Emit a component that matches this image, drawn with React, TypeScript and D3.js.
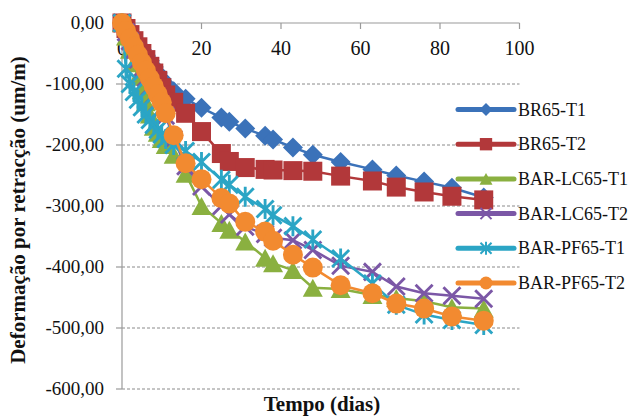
import React from "react";
import * as d3 from "d3";

// Measurement days (shared by all specimens)
const days = [0, 1, 2, 3, 4, 5, 6, 7, 8, 9, 10, 11, 13, 16, 20, 25, 27, 31, 36, 38, 43, 48, 55, 63, 69, 76, 83, 91];

// Shrinkage strain (µm/m) per specimen
const br65T1 = [0, -8, -17, -26, -35, -44, -53, -62, -72, -82, -92, -101, -112, -124, -139, -155, -162, -173, -185, -191, -204, -216, -228, -240, -250, -260, -270, -286];
const br65T2 = [0, -9, -19, -29, -39, -50, -60, -71, -82, -94, -106, -118, -130, -148, -178, -214, -227, -237, -240, -241, -242, -243, -251, -259, -269, -277, -284, -290];
const barLc65T1 = [0, -22, -44, -66, -88, -110, -130, -150, -170, -180, -190, -200, -216, -247, -300, -328, -339, -358, -385, -394, -405, -434, -436, -446, -451, -456, -466, -468];
const barLc65T2 = [0, -15, -30, -45, -60, -75, -90, -105, -118, -130, -140, -152, -190, -235, -268, -300, -314, -334, -346, -352, -356, -372, -398, -408, -432, -443, -447, -452];
const barPf65T1 = [0, -75, -100, -113, -126, -138, -150, -159, -167, -175, -183, -190, -200, -210, -228, -257, -265, -285, -305, -315, -333, -355, -386, -427, -462, -478, -487, -495];
const barPf65T2 = [0, -13, -26, -39, -52, -65, -78, -91, -104, -117, -130, -148, -184, -230, -256, -287, -296, -326, -342, -357, -380, -401, -430, -443, -460, -468, -481, -488];

const seriesNames = ["BR65-T1", "BR65-T2", "BAR-LC65-T1", "BAR-LC65-T2", "BAR-PF65-T1", "BAR-PF65-T2"];
const seriesValues = [br65T1, br65T2, barLc65T1, barLc65T2, barPf65T1, barPf65T2];
const seriesColors = ["#3b72b9", "#b2383a", "#8ab040", "#7b57a6", "#2ba5c5", "#f28a30"];
const seriesMarkers = ["diamond", "square", "triangle", "x", "star", "circle"];

const xTicks = [0, 20, 40, 60, 80, 100];
const yTicks = [0, -100, -200, -300, -400, -500, -600];

const W = 633;
const H = 417;
const FONT =
  '"Liberation Serif", Tinos, "Noto Serif", "DejaVu Serif", FreeSerif, "Times New Roman", Times, serif';

const x = d3.scaleLinear().domain([0, 100]).range([122, 519.5]);
const y = d3.scaleLinear().domain([0, -600]).range([23, 389]);

const fmt = (v: number) => d3.format(".2f")(v).replace(".", ",").replace("−", "-");

function Marker({ kind, cx, cy, color, size }: { kind: string; cx: number; cy: number; color: string; size: number }) {
  const h = size / 2;
  if (kind === "diamond") {
    return <path d={`M${cx},${cy - h}L${cx + h},${cy}L${cx},${cy + h}L${cx - h},${cy}Z`} fill={color} />;
  }
  if (kind === "square") {
    const s = size * 0.95;
    return <rect x={cx - s / 2} y={cy - s / 2} width={s} height={s} fill={color} />;
  }
  if (kind === "triangle") {
    const th = size * 0.9;
    return <path d={`M${cx},${cy - th / 2}L${cx + h},${cy + th / 2}L${cx - h},${cy + th / 2}Z`} fill={color} />;
  }
  if (kind === "circle") {
    return <circle cx={cx} cy={cy} r={h} fill={color} />;
  }
  const a = h * 0.85;
  const sw = Math.max(2, size / 7);
  if (kind === "x") {
    return (
      <path d={`M${cx - a},${cy - a}L${cx + a},${cy + a}M${cx - a},${cy + a}L${cx + a},${cy - a}`} stroke={color} strokeWidth={sw} fill="none" />
    );
  }
  // star: X plus a vertical stroke
  return (
    <path
      d={`M${cx - a},${cy - a}L${cx + a},${cy + a}M${cx - a},${cy + a}L${cx + a},${cy - a}M${cx},${cy - h}L${cx},${cy + h}`}
      stroke={color}
      strokeWidth={sw}
      fill="none"
    />
  );
}

export default function App() {
  const line = d3
    .line<number>()
    .x((_, i) => x(days[i]))
    .y((v) => y(v));

  const legendY0 = 109.5;
  const legendStep = 34.7;
  const textStyle = { fontFamily: FONT };

  return (
    <svg width={W} height={H} style={{ position: "absolute", left: 0, top: 0, background: "#fff" }}>
      {/* gridlines */}
      {yTicks
        .filter((t) => t !== 0)
        .map((t) => (
          <line key={t} x1={x(0)} x2={x(100)} y1={y(t)} y2={y(t)} stroke="#8a8a8a" strokeWidth={1} strokeDasharray="3,2" />
        ))}
      {/* axes */}
      <line x1={x(0)} x2={x(100)} y1={y(0)} y2={y(0)} stroke="#9a9a9a" strokeWidth={1.2} />
      <line x1={x(0)} x2={x(0)} y1={y(0)} y2={y(-600)} stroke="#9a9a9a" strokeWidth={1.2} />
      {xTicks.map((t) => (
        <g key={t}>
          <line x1={x(t)} x2={x(t)} y1={y(0)} y2={y(0) + 6} stroke="#9a9a9a" strokeWidth={1.2} />
          <text x={x(t)} y={y(0) + 32} textAnchor="middle" style={textStyle} fontSize={20} fill="#111">
            {t}
          </text>
        </g>
      ))}
      {yTicks.map((t) => (
        <g key={t}>
          <line x1={x(0) - 6} x2={x(0)} y1={y(t)} y2={y(t)} stroke="#9a9a9a" strokeWidth={1.2} />
          <text x={104} y={y(t) + 6} textAnchor="end" style={textStyle} fontSize={19} fill="#111">
            {fmt(t)}
          </text>
        </g>
      ))}

      {/* series */}
      {seriesValues.map((vals, si) => (
        <g key={seriesNames[si]}>
          <path d={line(vals) ?? ""} fill="none" stroke={seriesColors[si]} strokeWidth={2.5} />
          {vals.map((v, i) => (
            <Marker key={i} kind={seriesMarkers[si]} cx={x(days[i])} cy={y(v)} color={seriesColors[si]} size={20} />
          ))}
        </g>
      ))}

      {/* legend */}
      {seriesNames.map((name, si) => {
        const ly = legendY0 + si * legendStep;
        return (
          <g key={name}>
            <line x1={458} x2={514} y1={ly} y2={ly} stroke={seriesColors[si]} strokeWidth={5} strokeLinecap="round" />
            <Marker kind={seriesMarkers[si]} cx={486} cy={ly} color={seriesColors[si]} size={13} />
            <text x={518} y={ly + 6} style={textStyle} fontSize={18} fill="#111">
              {name}
            </text>
          </g>
        );
      })}

      {/* axis titles */}
      <text x={322} y={411} textAnchor="middle" style={textStyle} fontSize={21} fontWeight="bold" fill="#111">
        Tempo (dias)
      </text>
      <text
        transform={`translate(25,210) rotate(-90)`}
        textAnchor="middle"
        style={textStyle}
        fontSize={21}
        fontWeight="bold"
        fill="#111"
      >
        Deformação por retracção (um/m)
      </text>
    </svg>
  );
}
